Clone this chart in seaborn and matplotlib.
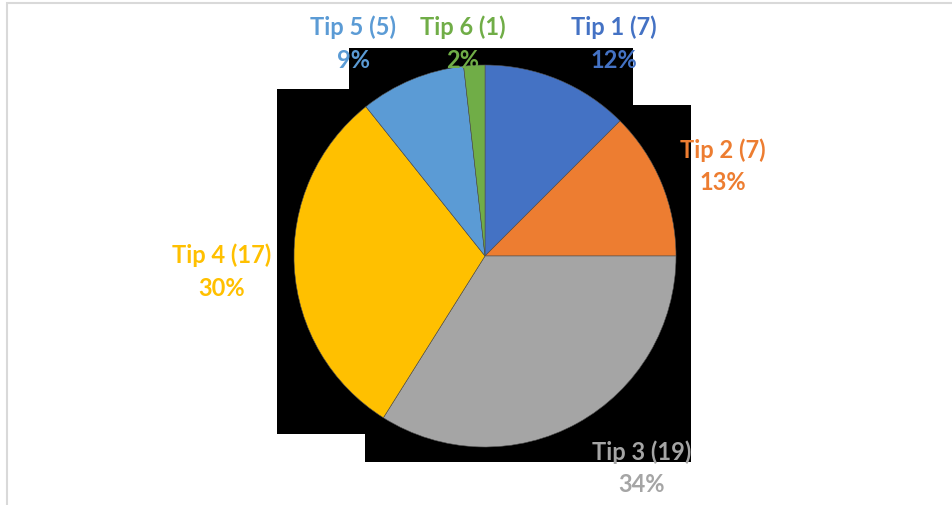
import matplotlib
matplotlib.use("Agg")
import matplotlib.pyplot as plt
import seaborn as sns
from matplotlib.patches import Polygon, Rectangle

# Data
tips = ["Tip 1", "Tip 2", "Tip 3", "Tip 4", "Tip 5", "Tip 6"]
counts = [7, 7, 19, 17, 5, 1]
pct_labels = ["12%", "13%", "34%", "30%", "9%", "2%"]
colors = ["#4472C4", "#ED7D31", "#A5A5A5", "#FFC000", "#5B9BD5", "#70AD47"]

sns.set_theme(style="white")
plt.rcParams['font.family'] = ['Lato', 'DejaVu Sans']
palette = sns.color_palette(colors)

W, H = 953, 506
fig = plt.figure(figsize=(W / 100, H / 100), dpi=100)
fig.patch.set_facecolor("white")

def fx(px):
    return px / W

def fy(py):
    return 1 - py / H

# light chart border
fig.patches.append(Rectangle((fx(7), -0.1), 2, fy(4) + 0.1, transform=fig.transFigure,
                             facecolor="none", edgecolor="#d9d9d9", linewidth=1.5, zorder=-2))

# black plot-area artefact behind the pie
outline = [(349, 49), (633, 49), (633, 106), (691, 106), (691, 463), (365, 463),
           (365, 435), (277, 435), (277, 90), (349, 90)]
fig.patches.append(Polygon([(fx(x), fy(y)) for x, y in outline], closed=True,
                           transform=fig.transFigure, facecolor="black", edgecolor="none",
                           zorder=-1))

# pie
cx, cy, r = 485, 257, 191
ax = fig.add_axes([fx(cx - r), fy(cy + r), 2 * r / W, 2 * r / H])
ax.patch.set_alpha(0)
ax.pie(counts, colors=palette, startangle=90, counterclock=False, radius=1,
       wedgeprops=dict(linewidth=0.4, edgecolor="#505050"))
ax.set_xlim(-1, 1)
ax.set_ylim(-1, 1)
ax.set_aspect("auto")
ax.axis("off")

# label positions (pixel centres of the two text lines)
label_pos = [(614, 27), (723, 150), (642, 452), (222, 255), (353, 27), (463, 27)]
for name, n, pct, col, (px, py) in zip(tips, counts, pct_labels, palette, label_pos):
    x = (px - cx) / r
    ax.text(x, (cy - py) / r, f"{name} ({n})", color=col, fontsize=17, fontweight="bold",
            ha="center", va="center", clip_on=False)
    ax.text(x, (cy - py - 33) / r, pct, color=col, fontsize=17, fontweight="bold",
            ha="center", va="center", clip_on=False)

fig.savefig("out.png", dpi=100)
